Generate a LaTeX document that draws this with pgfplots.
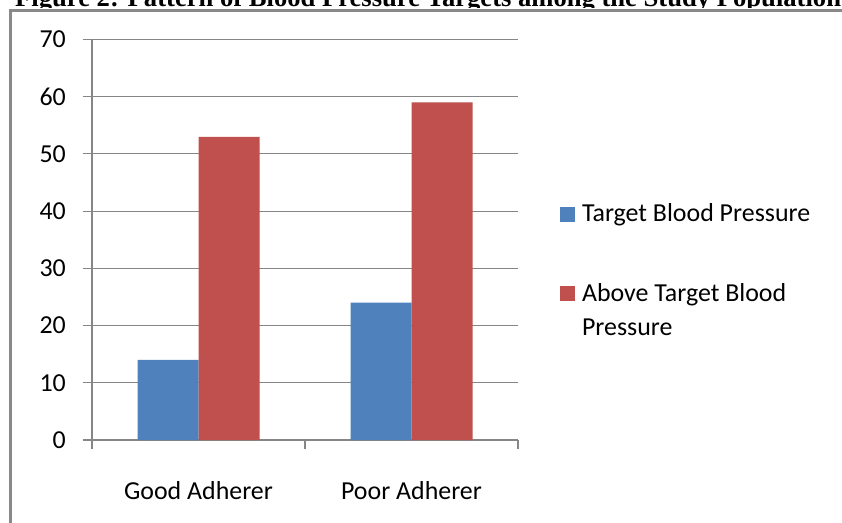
\documentclass[border=0pt]{standalone}
\usepackage{pgfplots}
\pgfplotsset{compat=1.18}
\usepackage{fontspec}
\setmainfont{Carlito}
\newfontfamily\titlefont{Liberation Serif}
\definecolor{barblue}{RGB}{79,129,189}
\definecolor{barred}{RGB}{192,80,77}
\definecolor{gridgray}{RGB}{134,134,134}
\definecolor{framegray}{RGB}{137,137,137}
\begin{document}
\begin{tikzpicture}
\useasboundingbox (0,0) rectangle (842bp,523bp);
\clip (0,0) rectangle (842bp,523bp);
\fill[white] (0,0) rectangle (842bp,523bp);
\node[anchor=base west, inner sep=0pt, font=\titlefont\bfseries\fontsize{26.7}{32}\selectfont] at (15bp,516.5bp) {Figure 2: Pattern of Blood Pressure Targets among the Study Population};
\fill[white] (0,0) rectangle (842bp,514.5bp);
\draw[framegray, line width=2.2bp] (10.5bp,-5bp) -- (10.5bp,512.5bp) -- (860bp,512.5bp);
\begin{axis}[
  at={(92bp,83bp)}, anchor=south west, scale only axis,
  width=426bp, height=400.5bp,
  ybar=0pt, bar width=61bp,
  xmin=-0.5, xmax=1.5, ymin=0, ymax=70,
  ytick={0,10,...,70},
  xtick={-0.5,0.5,1.5}, xticklabels={},
  extra x ticks={0,1},
  extra x tick labels={Good Adherer, Poor Adherer},
  extra x tick style={major tick length=0pt, tick label style={anchor=base, yshift=-59bp, inner sep=0pt}},
  axis x line=bottom, axis y line=left,
  x axis line style={-, gridgray, line width=1.1bp},
  y axis line style={-, gridgray, line width=1.1bp},
  tick align=outside, major tick length=9bp,
  tick style={gridgray, line width=1.1bp},
  ymajorgrids, grid style={gridgray, line width=1.1bp},
  /pgf/number format/assume math mode=true,
  tick label style={font=\fontsize{26}{32}\selectfont},
  yticklabel style={anchor=east, inner sep=0pt, xshift=-17bp},
  legend style={draw=none, fill=none, at={(1.0986,0.59)}, anchor=north west,
    font=\fontsize{26}{34}\selectfont, inner sep=0pt, outer sep=0pt,
    row sep=60bp,
    nodes={inner sep=0pt, outer sep=0pt},
    cells={anchor=base west}},
  legend image code/.code={\fill[#1] (0bp,0bp) rectangle (15bp,15bp);},
  clip=false,
]
\addplot[fill=barblue, draw=none] coordinates {(0,14) (1,24)};
\addplot[fill=barred, draw=none] coordinates {(0,53) (1,59)};
\legend{\hspace{7bp}Target Blood Pressure, {\vtop{\baselineskip=34bp\hbox{\hspace{7bp}Above Target Blood}\hbox{\hspace{7bp}Pressure}}}}
\end{axis}
\end{tikzpicture}
\end{document}
